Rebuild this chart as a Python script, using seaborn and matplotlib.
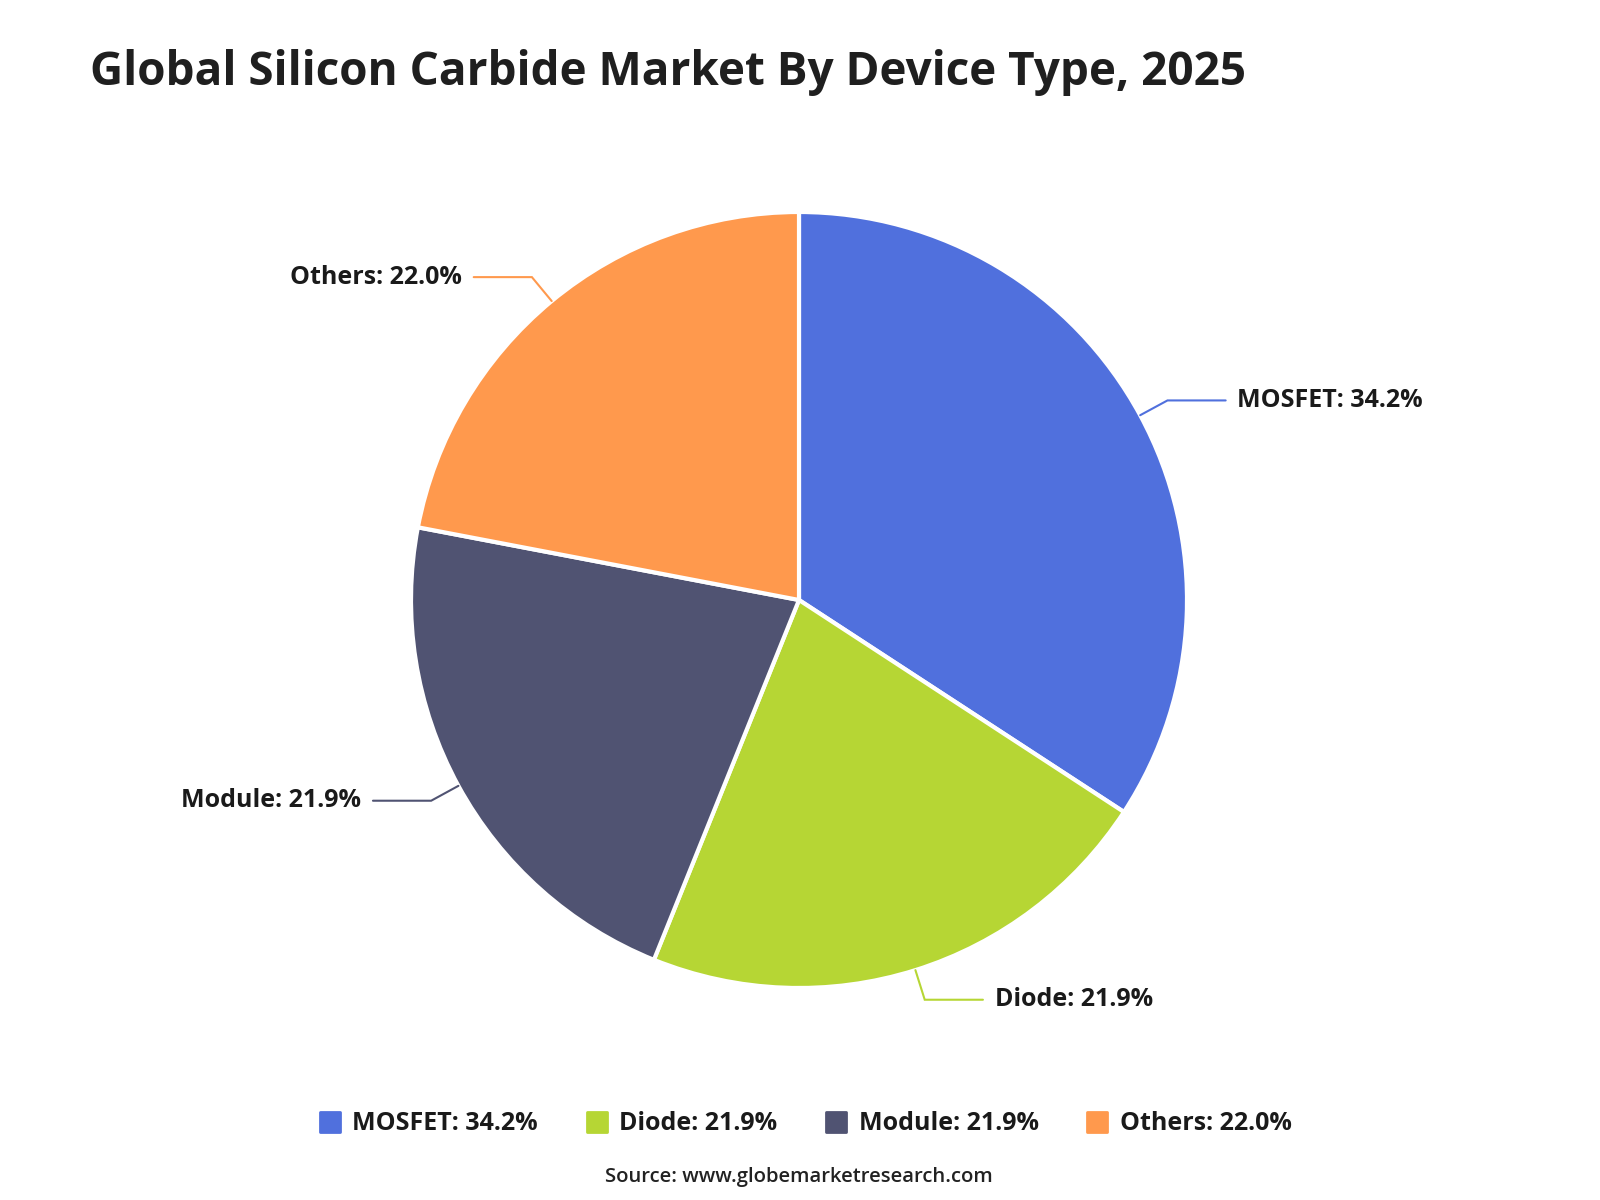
import numpy as np
import matplotlib
matplotlib.use("Agg")
import matplotlib.pyplot as plt
import seaborn as sns
from matplotlib.lines import Line2D
from matplotlib.markers import MarkerStyle

# data
categories = ["MOSFET", "Diode", "Module", "Others"]
shares = [34.2, 21.9, 21.9, 22.0]
colors = ["#5070DD", "#B6D634", "#505372", "#FF994D"]
title = "Global Silicon Carbide Market By Device Type, 2025"
source = "Source: www.globemarketresearch.com"

sns.set_theme(style="white")
plt.rcParams["font.family"] = ["Open Sans", "DejaVu Sans"]

fig = plt.figure(figsize=(16, 12), dpi=100)
fig.patch.set_facecolor("white")

# pie axes: center (799, 600) px, radius 388 px
cx, cy, r = 799, 600, 388
ax = fig.add_axes([(cx - r) / 1600, 1 - (cy + r) / 1200, 2 * r / 1600, 2 * r / 1200])
wedges, _ = ax.pie(shares, colors=colors, startangle=90, counterclock=False,
                   radius=1, wedgeprops=dict(edgecolor="white", linewidth=3, joinstyle="round"))
ax.set_xlim(-1, 1)
ax.set_ylim(-1, 1)
ax.set_aspect("equal")
ax.axis("off")

labels = [f"{c}: {v:.1f}%" for c, v in zip(categories, shares)]

# leader lines and labels
total = sum(shares)
cum = 0
for lab, v, col in zip(labels, shares, colors):
    mid = (cum + v / 2) / total * 2 * np.pi
    cum += v
    dx, dy = np.sin(mid), np.cos(mid)
    p0 = (dx * 1.0, dy * 1.0)
    p1 = (dx * 1.08, dy * 1.08)
    side = 1 if dx > 0 else -1
    p2 = (p1[0] + side * 0.15, p1[1])
    ax.plot([p0[0], p1[0], p2[0]], [p0[1], p1[1], p2[1]], color=col, lw=1.5,
            clip_on=False, solid_joinstyle="miter")
    ax.text(p2[0] + side * 0.03, p2[1], lab, ha="left" if side > 0 else "right",
            va="center", fontsize=18, fontweight="bold", color="#1a1a1a")

fig.text(90 / 1600, 1 - 72 / 1200, title, ha="left", va="center",
         fontsize=33, fontweight="bold", color="#1f1f1f")

handles = [Line2D([], [], linestyle="none", marker=MarkerStyle("s", joinstyle="round"),
                  markersize=14, markerfacecolor=c, markeredgecolor=c, markeredgewidth=2)
           for c in colors]
leg = fig.legend(handles, labels, loc="center", bbox_to_anchor=(802 / 1600, 1 - 1124 / 1200),
                 ncol=4, frameon=False, handletextpad=0.2, handlelength=1.4,
                 columnspacing=1.65, prop=dict(size=18, weight="bold"))
for t in leg.get_texts():
    t.set_color("#1a1a1a")

fig.text(799 / 1600, 1 - 1177 / 1200, source, ha="center", va="center",
         fontsize=14.6, color="#222222", fontweight="semibold")

fig.savefig("out.png", dpi=100, facecolor="white")
